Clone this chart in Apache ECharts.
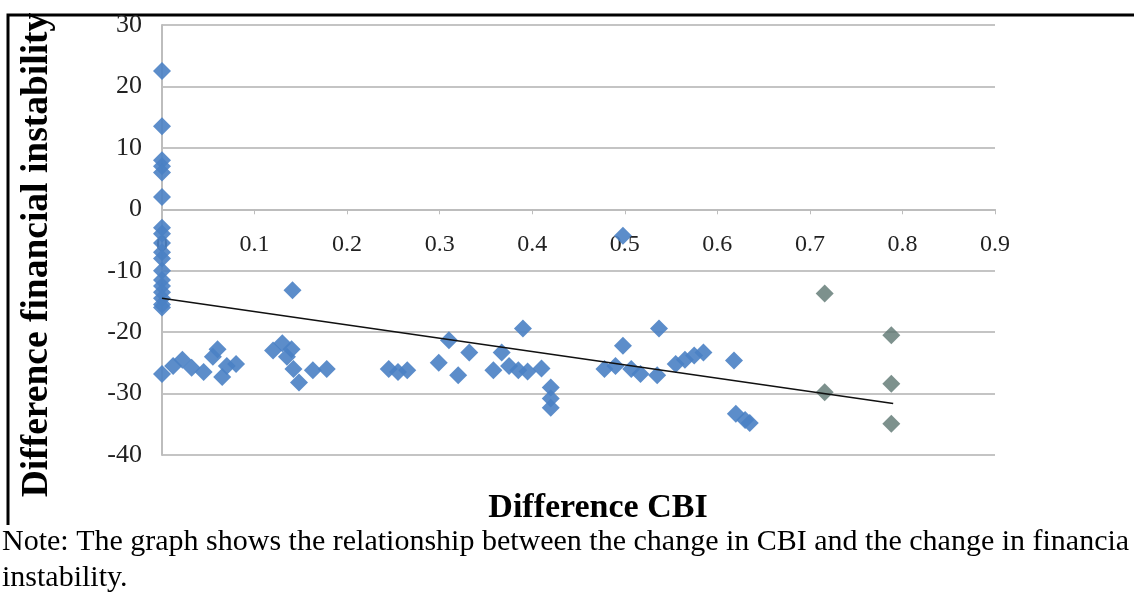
<!DOCTYPE html>
<html>
<head>
<meta charset="utf-8">
<script src="https://cdn.jsdelivr.net/npm/echarts@6/dist/echarts.min.js"></script>
<style>
html,body{margin:0;padding:0;background:#fff;}
#chart{width:1134px;height:603px;}
</style>
</head>
<body>
<div id="chart"></div>
<script>
// ---- data ----
var xTitle = 'Difference CBI';
var yTitle = 'Difference financial instability';
var noteLine1 = 'Note: The graph shows the relationship between the change in CBI and the change in financia';
var noteLine2 = 'instability.';

// blue series: [CBI difference, financial instability difference]
var blueX = [0,0,0,0,0,0,0,0,0,0,0,0,0,0,0,0,0,0,
  0,0.012,0.022,0.032,
  0.045,0.055,0.06,0.065,0.07,0.08,
  0.12,0.13,0.135,0.14,0.142,0.148,0.141,
  0.163,0.178,
  0.245,0.255,0.265,
  0.299,0.31,0.32,0.332,
  0.358,0.367,0.375,0.385,0.39,0.395,0.41,0.42,0.42,0.42,
  0.478,0.49,0.498,0.498,0.507,0.517,0.537,0.535,
  0.555,0.565,0.575,0.585,
  0.618,0.62,0.63,0.635];
var blueY = [22.5,13.5,8,7,6,2,-3,-4,-5.5,-7,-8,-10,-11.5,-12.5,-13.5,-14.5,-15.5,-16,
  -26.8,-25.5,-24.5,-25.8,
  -26.5,-24,-22.8,-27.3,-25.5,-25.2,
  -23,-21.8,-24,-22.8,-26,-28.2,-13.2,
  -26.2,-26,
  -26,-26.5,-26.2,
  -25,-21.3,-27,-23.3,
  -26.2,-23.3,-25.5,-26.2,-19.4,-26.4,-25.9,-29,-30.8,-32.3,
  -26,-25.5,-22.2,-4.3,-26,-26.8,-19.4,-27,
  -25.2,-24.5,-23.8,-23.3,
  -24.6,-33.3,-34.3,-34.8];
// grey-green series
var greyX = [0.716,0.716,0.788,0.788,0.788];
var greyY = [-13.7,-29.8,-20.5,-28.4,-34.9];
// linear trend line endpoints
var trendX = [0,0.79];
var trendY = [-14.5,-31.6];
// axis ticks
var xTicks = {min:0, max:0.9, interval:0.1};
var yTicks = {min:-40, max:30, interval:10};

function pairs(xs, ys){ return xs.map(function(x,i){ return [x, ys[i]]; }); }

var chart = echarts.init(document.getElementById('chart'), null, {renderer:'canvas'});
var serif = '"Liberation Serif","DejaVu Serif",serif';
var gridTop = 25, gridBottom = 148, H = 603;
var plotH = H - gridTop - gridBottom;
// x axis crosses the y axis at 0: shift it up from the bottom edge
var zeroOffset = -plotH * (0 - yTicks.min) / (yTicks.max - yTicks.min);
chart.setOption({
  backgroundColor:'#ffffff',
  animation:false,
  grid:{left:162, right:139, top:gridTop, bottom:gridBottom, containLabel:false},
  xAxis:{
    type:'value', min:xTicks.min, max:xTicks.max, interval:xTicks.interval,
    position:'bottom', offset:zeroOffset,
    axisLine:{onZero:false, lineStyle:{color:'#bdbdbd', width:2}},
    axisTick:{show:true, inside:false, length:5, lineStyle:{color:'#bdbdbd', width:1}},
    splitLine:{show:false},
    axisLabel:{fontFamily:serif, fontSize:24, color:'#222', margin:23,
      formatter:function(v){ return v===0 ? '0' : v.toFixed(1); }}
  },
  yAxis:{
    type:'value', min:yTicks.min, max:yTicks.max, interval:yTicks.interval,
    axisLine:{show:true, onZero:false, lineStyle:{color:'#bdbdbd', width:2}},
    axisTick:{show:false},
    splitLine:{show:true, lineStyle:{color:'#c4c4c4', width:2}},
    axisLabel:{fontFamily:serif, fontSize:26, color:'#222', margin:20,
      formatter:function(v){ return String(v); }}
  },
  series:[
    {type:'scatter', data:pairs(blueX, blueY), symbol:'diamond', symbolSize:18,
     itemStyle:{color:'#4a81c4', opacity:0.9}, z:3},
    {type:'scatter', data:pairs(greyX, greyY), symbol:'diamond', symbolSize:18,
     itemStyle:{color:'#5d7670'}, z:3},
    {type:'line', data:pairs(trendX, trendY), showSymbol:false, symbol:'none',
     lineStyle:{color:'#111', width:1.5}, z:5}
  ],
  graphic:[
    {type:'polyline', shape:{points:[[1140,15],[8,15],[8,525]]},
     style:{stroke:'#000', lineWidth:3, fill:null}},
    {type:'text', x:598, y:508, style:{text:xTitle, font:'bold 34px '+serif, fill:'#000',
      textAlign:'center', textVerticalAlign:'middle'}},
    {type:'text', x:37, y:255, rotation:Math.PI/2, style:{text:yTitle, font:'bold 37.5px '+serif, fill:'#000',
      textAlign:'center', textVerticalAlign:'middle'}},
    {type:'text', x:2, y:542, style:{text:noteLine1, font:'30px '+serif, fill:'#000',
      textAlign:'left', textVerticalAlign:'middle'}},
    {type:'text', x:2, y:578, style:{text:noteLine2, font:'30px '+serif, fill:'#000',
      textAlign:'left', textVerticalAlign:'middle'}}
  ]
});
</script>
</body>
</html>
